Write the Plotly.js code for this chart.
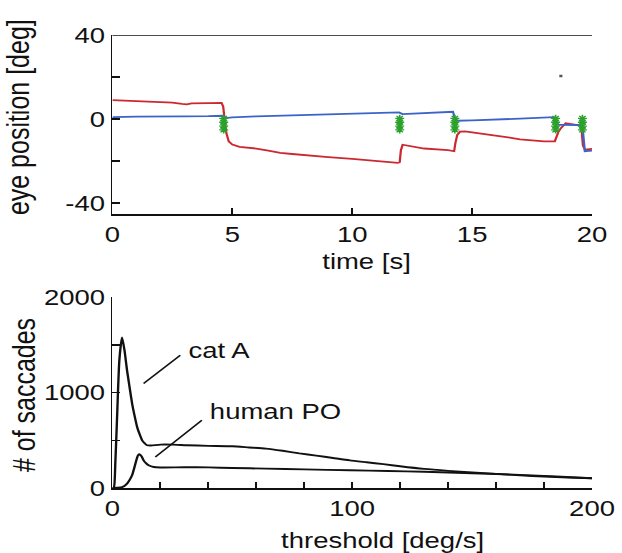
<!DOCTYPE html>
<html><head><meta charset="utf-8">
<script src="https://cdn.plot.ly/plotly-3.0.1.min.js"></script>
<style>
html,body{margin:0;padding:0;background:#fff;overflow:hidden}
#chart{width:498px;height:553px;transform:scaleX(1.249);transform-origin:0 0}
</style>
</head><body><div id="chart"></div>
<script>
// ---- top panel: eye position traces ----
const timeRed = [0,0.5,1,1.5,2,2.5,2.9,3.1,3.3,3.5,4,4.55,4.62,4.68,4.75,4.85,5.0,5.3,6,6.5,7,7.5,8,9,10,11,11.9,11.98,12.03,12.1,12.5,13,14,14.25,14.3,14.38,14.5,14.7,15,15.5,16,16.5,17,17.5,18,18.45,18.52,18.6,18.7,18.9,19.2,19.55,19.62,19.7,20];
const posRed = [9.0,8.8,8.6,8.4,8.1,7.8,7.2,7.0,7.5,7.6,7.6,7.7,6.0,-0.3,-6.6,-10.6,-12.1,-13.2,-14.0,-15.0,-16.1,-16.6,-17.2,-18.1,-18.9,-20.0,-20.8,-20.5,-14.8,-12.2,-12.9,-14.0,-14.8,-15.3,-11.5,-7.5,-6.0,-5.8,-6.3,-7.0,-7.9,-8.7,-9.6,-10.2,-10.6,-10.6,-8.5,-6.0,-4.3,-2.0,-2.5,-3.2,-12.5,-14.5,-14.2];
const timeBlue = [0,0.05,1,2,3,4,4.6,4.7,5,6,7,8,9,10,11,11.95,12.1,13,14.2,14.3,14.4,15,16,17,18.4,18.5,18.6,19.5,19.6,19.7,20];
const posBlue = [0.3,0.9,1.2,1.1,1.3,1.4,1.6,0.5,0.8,1.3,1.6,1.9,2.1,2.5,2.8,3.2,2.4,3.0,3.5,-0.3,-0.8,-0.6,-0.3,0.2,0.9,-1.9,-2.7,-2.8,-3.2,-15.3,-15.0];
const sacTime = [4.64,4.64,4.64,4.64,11.98,11.98,11.98,11.98,14.28,14.28,14.28,14.28,18.48,18.48,18.48,18.48,19.6,19.6,19.6,19.6];
const sacPos = [0.3,-1.5,-3.3,-5.1,0.3,-1.5,-3.3,-5.1,0.3,-1.5,-3.3,-5.1,0.3,-1.5,-3.3,-5.1,0.3,-1.5,-3.3,-5.1];
const dotTime = [18.7];
const dotPos = [20.5];
const topYTicks = [-40,-20,0,20,40];
const topYLabels = ['-40','','0','','40'];
const topXTicks = [0,5,10,15,20];

// ---- bottom panel: saccade counts vs threshold ----
const thrCat = [0,0.6,1.2,1.9,2.9,4.0,5,6.1,7.2,8.2,9.3,10.3,11.4,12.4,13.4,14.4,16,20,25,31,40,50,57,64,71,78,85,92,99,106,113,120,130,140,150,160,170,180,190,200];
const cntCat = [0,5,250,710,1340,1577,1450,1234,1050,888,750,640,560,500,470,448,445,455,455,448,442,437,425,413,390,363,340,315,290,270,250,228,200,180,163,148,132,120,110,102];
const thrHum = [0,2,4,5,6.1,7.2,8.2,9,9.6,10.2,10.7,11.4,12.2,13,14,15.1,17.2,20,30,40,50,64,80,99,115,130,150,170,185,200];
const cntHum = [0,3,10,22,46,85,133,200,256,310,343,353,330,290,260,238,220,215,218,216,210,203,195,186,178,170,155,138,120,102];
const botYTicks = [0,500,1000,1500,2000];
const botYLabels = ['0','','1000','','2000'];
const botXTicks = [0,20,40,60,80,100,120,140,160,180,200];
const botXLabels = ['0','','','','','100','','','','','200'];

const FONT = 'Liberation Sans, Arial, sans-serif';
const FS = 22;   // tick labels
const FT = 22;   // horizontal titles / labels
const FR = 25;   // rotated titles

const traces = [
  {x: timeRed, y: posRed, type:'scatter', mode:'lines', line:{color:'rgb(205,40,48)', width:1.8}, xaxis:'x', yaxis:'y', hoverinfo:'skip'},
  {x: timeBlue, y: posBlue, type:'scatter', mode:'lines', line:{color:'rgb(60,100,200)', width:1.8}, xaxis:'x', yaxis:'y', hoverinfo:'skip'},
  {x: sacTime, y: sacPos, type:'scatter', mode:'markers', marker:{symbol:'asterisk-open', size:6, line:{color:'rgb(40,150,60)', width:1.3}}, xaxis:'x', yaxis:'y', hoverinfo:'skip'},
  {x: dotTime, y: dotPos, type:'scatter', mode:'markers', marker:{symbol:'square', size:2.5, color:'#555'}, xaxis:'x', yaxis:'y', hoverinfo:'skip'},
  {x: thrCat, y: cntCat, type:'scatter', mode:'lines', line:{color:'#111', width:1.9, shape:'spline', smoothing:0.6}, xaxis:'x2', yaxis:'y2', hoverinfo:'skip'},
  {x: thrHum, y: cntHum, type:'scatter', mode:'lines', line:{color:'#111', width:1.9, shape:'spline', smoothing:0.6}, xaxis:'x2', yaxis:'y2', hoverinfo:'skip'}
];

const axBase = {showline:true, linecolor:'#111', linewidth:1.5, ticks:'inside', ticklen:6, tickwidth:1.5, tickcolor:'#111',
  showgrid:false, zeroline:false, tickfont:{family:FONT, size:FS, color:'#111'}, automargin:false, tickmode:'array'};

function title(text, x, y, angle, size) {
  return {text:text, xref:'paper', yref:'paper', x:x, y:y, textangle:angle, xanchor:'center', yanchor:'middle',
    showarrow:false, font:{family:FONT, size:size, color:'#111'}};
}

const layout = {
  width:498, height:553,
  margin:{l:89.67, r:24, t:35, b:65},
  paper_bgcolor:'#fff', plot_bgcolor:'#fff',
  showlegend:false,
  font:{family:FONT, size:FS, color:'#111'},
  xaxis: Object.assign({}, axBase, {domain:[0,1], anchor:'y', range:[0,20], tickvals:topXTicks, ticktext:topXTicks.map(String)}),
  yaxis: Object.assign({}, axBase, {domain:[0.6046,1], anchor:'x', range:[-45.2,40], tickvals:topYTicks, ticktext:topYLabels}),
  xaxis2: Object.assign({}, axBase, {domain:[0,1], anchor:'y2', range:[0,200], tickvals:botXTicks, ticktext:botXLabels}),
  yaxis2: Object.assign({}, axBase, {domain:[0,0.4212], anchor:'x2', range:[0,2000], tickvals:botYTicks, ticktext:botYLabels}),
  shapes:[
    {type:'line', xref:'x domain', yref:'y', x0:0, x1:1, y0:40, y1:40, line:{color:'#111', width:1.5}},
    {type:'line', xref:'x2', yref:'y2', x0:13.0, y0:1095, x1:28.3, y1:1392, line:{color:'#111', width:1.5}},
    {type:'line', xref:'x2', yref:'y2', x0:17.9, y0:325, x1:37.3, y1:710, line:{color:'#111', width:1.5}}
  ],
  annotations:[
    title('eye position [deg]', -0.196, 0.818, -90, FR),
    title('time [s]', 0.529, 0.501, 0, FT),
    title('# of saccades', -0.185, 0.205, -90, FR),
    title('threshold [deg/s]', 0.565, -0.1155, 0, FT),
    {text:'cat A', xref:'x2', yref:'y2', x:30.8, y:1443, xanchor:'left', yanchor:'middle', showarrow:false, font:{family:FONT, size:FT, color:'#111'}},
    {text:'human PO', xref:'x2', yref:'y2', x:39.7, y:797, xanchor:'left', yanchor:'middle', showarrow:false, font:{family:FONT, size:FT, color:'#111'}}
  ]
};

Plotly.newPlot('chart', traces, layout, {staticPlot:true, displayModeBar:false});
</script>
</body></html>
